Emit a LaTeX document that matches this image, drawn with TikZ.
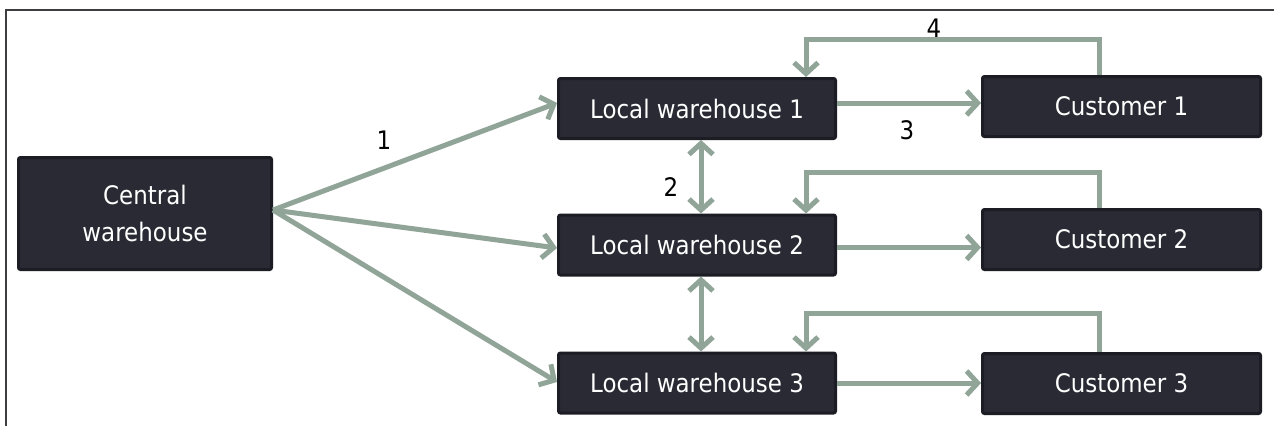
\documentclass[tikz,border=0pt]{standalone}
\usepackage{fontspec}
\setmainfont{DejaVu Sans}[FakeStretch=0.9]
\usetikzlibrary{arrows.meta}
\definecolor{boxfill}{RGB}{42,42,52}
\definecolor{boxline}{RGB}{28,28,36}
\definecolor{flow}{RGB}{144,164,152}
\definecolor{framegray}{RGB}{60,60,66}

\begin{document}
\begin{tikzpicture}[x=1pt,y=-1pt,
  box/.style={draw=boxline, fill=boxfill, line width=3pt, rounded corners=2pt,
    text=white, font=\fontsize{25.5}{37}\selectfont, inner sep=0pt, align=center},
  wide/.style={minimum width=277pt, minimum height=60pt},
  flowline/.style={draw=flow, line width=5pt},
  tip/.style={-{Straight Barb[length=11pt,width=24pt]}},
  twotips/.style={{Straight Barb[length=11pt,width=24pt]}-{Straight Barb[length=11pt,width=24pt]}},
  lbl/.style={font=\fontsize{25.5}{30}\selectfont, text=black, inner sep=0pt}
]
\useasboundingbox (0,0) rectangle (1274,426);
\fill[white] (0,0) rectangle (1274,426);
% page frame
\draw[framegray, line width=2pt] (6,426) -- (6,10) -- (1274,10);

% warehouses and customers
\node[box, minimum width=253pt, minimum height=112pt] (central) at (145,213.5) {Central\\warehouse};
\node[box, wide] (lw1) at (697,108.5) {Local warehouse 1};
\node[box, wide] (lw2) at (697,245) {Local warehouse 2};
\node[box, wide] (lw3) at (697,383) {Local warehouse 3};
\node[box, wide, minimum width=278pt] (c1) at (1121.5,106.5) {Customer 1};
\node[box, wide, minimum width=278pt] (c2) at (1121.5,239.5) {Customer 2};
\node[box, wide, minimum width=278pt] (c3) at (1121.5,383.5) {Customer 3};

% central warehouse to local warehouses
\draw[flowline, tip] ([yshift=3.5pt]central.east) -- ([yshift=5.5pt]lw1.west);
\draw[flowline, tip] ([yshift=3.5pt]central.east) -- ([yshift=-3pt]lw2.west);
\draw[flowline, tip] ([yshift=3.5pt]central.east) -- ([yshift=1pt]lw3.west);

% transfers between local warehouses
\draw[flowline, twotips] ([xshift=4pt]lw1.south) -- ([xshift=4pt]lw2.north);
\draw[flowline, twotips] ([xshift=4pt]lw2.south) -- ([xshift=4pt]lw3.north);

% deliveries
\draw[flowline, tip] ([yshift=5.5pt]lw1.east) -- ([yshift=3.5pt]c1.west);
\draw[flowline, tip] ([yshift=-2.5pt]lw2.east) -- ([yshift=-8pt]c2.west);
\draw[flowline, tip] (lw3.east) -- ([yshift=0.5pt]c3.west);

% returns from customers
\draw[flowline, tip] ([xshift=-22.5pt]c1.north) -- ++(0,-36) -| ([xshift=109pt]lw1.north);
\draw[flowline, tip] ([xshift=-22.5pt]c2.north) -- ++(0,-36) -| ([xshift=109pt]lw2.north);
\draw[flowline, tip] ([xshift=-22.5pt]c3.north) -- ++(0,-39) -| ([xshift=109pt]lw3.north);

% flow numbers
\node[lbl] (n1) at (384,140) {1};
\node[lbl] (n2) at (671,187) {2};
\node[lbl] (n3) at (907,130) {3};
\node[lbl] (n4) at (934,28) {4};
\end{tikzpicture}
\end{document}
